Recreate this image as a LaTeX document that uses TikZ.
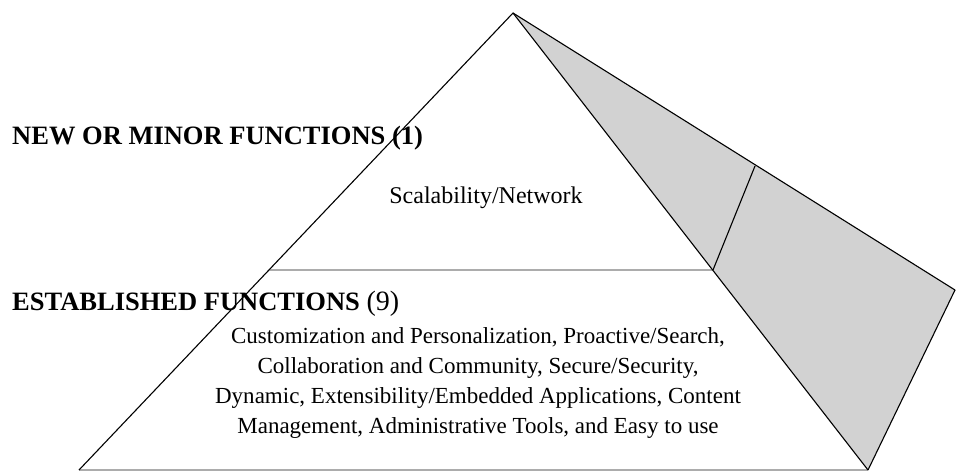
\documentclass[tikz,border=0pt]{standalone}
\usepackage{fontspec}
\setmainfont{Liberation Serif}
\begin{document}
\begin{tikzpicture}[x=1pt,y=-1pt,
  edge/.style={black, line width=1.1pt, line join=round},
  shelf/.style={gray!65, line width=1.8pt},
  facefill/.style={fill=gray!35},
  head/.style={anchor=west, inner sep=0pt, font=\fontsize{26.5}{30}\selectfont\bfseries},
  body/.style={align=center, inner sep=0pt, font=\fontsize{23}{30}\selectfont}]
\useasboundingbox (0,0) rectangle (957,472);
\coordinate (A) at (513,13);
\coordinate (BL) at (79,470);
\coordinate (BR) at (868,470);
\coordinate (R) at (955,290);
\coordinate (ML) at (269,270);
\coordinate (MR) at (713,270);
\coordinate (D) at (755,166);
\fill[facefill] (A) -- (R) -- (BR) -- cycle;
\draw[shelf] (BL) -- (BR);
\draw[shelf] (ML) -- (MR);
\draw[edge] (BL) -- (A) -- (BR);
\draw[edge] (A) -- (R) -- (BR);
\draw[edge] (MR) -- (D);
\node[head] (minor) at (12,138) {NEW OR MINOR FUNCTIONS (1)};
\node[head] (est) at (12,304) {ESTABLISHED FUNCTIONS {\mdseries\fontsize{28}{30}\selectfont (9)}};
\node[body, font=\fontsize{24}{30}\selectfont] (scal) at (486,198) {Scalability/Network};
\node[body] (list) at (478,383) {Customization and Personalization, Proactive/Search,\\Collaboration and Community, Secure/Security,\\Dynamic, Extensibility/Embedded Applications, Content\\Management, Administrative Tools, and Easy to use};
\end{tikzpicture}
\end{document}
